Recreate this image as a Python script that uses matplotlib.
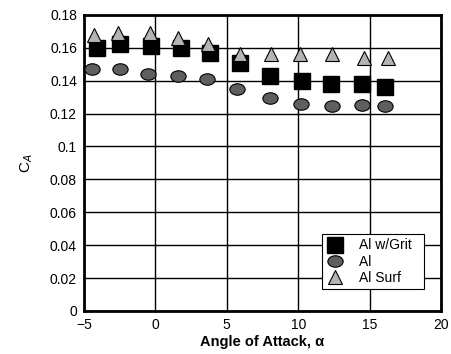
import matplotlib
matplotlib.use("Agg")
import matplotlib.pyplot as plt
from matplotlib.path import Path
from matplotlib.transforms import Affine2D

plt.rcParams["font.family"] = ["Liberation Sans", "DejaVu Sans"]

# readings
alpha_grit = [-4.1, -2.5, -0.3, 1.8, 3.8, 5.9, 8.0, 10.3, 12.3, 14.5, 16.1]
ca_grit = [0.160, 0.162, 0.161, 0.160, 0.157, 0.151, 0.143, 0.140, 0.138, 0.138, 0.136]

alpha_al = [-4.4, -2.5, -0.5, 1.6, 3.6, 5.7, 8.0, 10.2, 12.4, 14.5, 16.1]
ca_al = [0.147, 0.147, 0.144, 0.143, 0.141, 0.135, 0.1295, 0.126, 0.1245, 0.1255, 0.1245]

alpha_surf = [-4.3, -2.6, -0.4, 1.6, 3.7, 5.9, 8.1, 10.1, 12.4, 14.6, 16.3]
ca_surf = [0.168, 0.169, 0.169, 0.166, 0.162, 0.156, 0.156, 0.156, 0.156, 0.154, 0.154]

xticks = [-5, 0, 5, 10, 15, 20]
xticklabels = ["\u22125", "0", "5", "10", "15", "20"]
yticks = [0, 0.02, 0.04, 0.06, 0.08, 0.1, 0.12, 0.14, 0.16, 0.18]
yticklabels = ["0", "0.02", "0.04", "0.06", "0.08", "0.1", "0.12", "0.14", "0.16", "0.18"]

# flattened circle marker
ellipse = Path.unit_circle().transformed(Affine2D().scale(1.0, 0.75))

fig = plt.figure(figsize=(4.51, 3.54), dpi=100)
ax = fig.add_axes([0.186, 0.1215, 0.792, 0.8365])

ax.plot(alpha_grit, ca_grit, "s", ms=11, color="black", mec="black",
        label="Al w/Grit", zorder=3)
ax.plot(alpha_al, ca_al, ls="none", marker=ellipse, ms=11, mfc="#5f5f5f",
        mec="black", mew=0.8, label="Al", zorder=3)
ax.plot(alpha_surf, ca_surf, "^", ms=10, mfc="#b4b4b4", mec="black",
        mew=0.8, label="Al Surf", zorder=3)

ax.set_xlim(-5, 20)
ax.set_ylim(0, 0.18)
ax.set_xticks(xticks)
ax.set_xticklabels(xticklabels)
ax.set_yticks(yticks)
ax.set_yticklabels(yticklabels)
ax.tick_params(length=0, labelsize=10, pad=5)
ax.grid(True, color="black", lw=1.0)
for s in ax.spines.values():
    s.set_linewidth(2.0)

ax.set_xlabel("Angle of Attack, \u03b1", fontsize=10.5, fontweight="bold", labelpad=2)
ax.set_ylabel("C$_A$", fontsize=11, labelpad=11)

leg = ax.legend(loc="lower right", bbox_to_anchor=(0.952, 0.075), fancybox=False,
                framealpha=1, edgecolor="black", fontsize=10, handletextpad=1.1,
                borderpad=0.3, borderaxespad=0, labelspacing=0.15, handlelength=1.3)
leg.get_frame().set_linewidth(0.8)
# a little extra room on the right like the original box
leg._legend_box.sep = 0
for t in leg.get_texts():
    t.set_text(t.get_text() + "  ")

fig.savefig("out.png", dpi=100, facecolor="white")
